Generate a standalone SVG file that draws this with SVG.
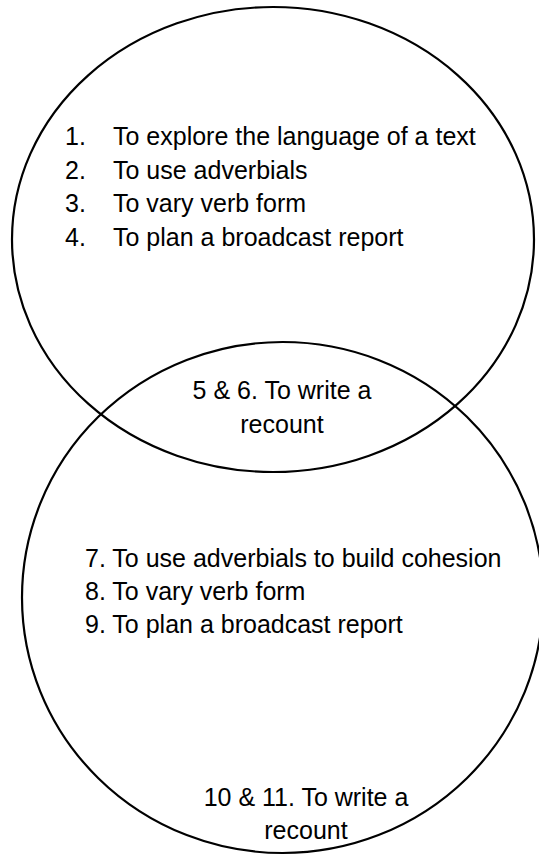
<svg xmlns="http://www.w3.org/2000/svg" width="539" height="857" viewBox="0 0 539 857">
  <style>
    .circle { fill: none; stroke: #000; stroke-width: 2.2; }
    .t { font-family: "Liberation Sans", Arial, sans-serif; font-size: 25px; fill: #000; }
    .c { text-anchor: middle; }
  </style>
  <rect x="0" y="0" width="539" height="857" fill="#fff"/>
  <g id="set-top">
    <ellipse class="circle" cx="273" cy="239.5" rx="261" ry="232.5"/>
    <text class="t" x="65" y="145">1.</text>
    <text class="t" x="113" y="145">To explore the language of a text</text>
    <text class="t" x="65" y="179">2.</text>
    <text class="t" x="113" y="179">To use adverbials</text>
    <text class="t" x="65" y="212">3.</text>
    <text class="t" x="113" y="212">To vary verb form</text>
    <text class="t" x="65" y="246">4.</text>
    <text class="t" x="113" y="246">To plan a broadcast report</text>
  </g>
  <g id="set-bottom">
    <ellipse class="circle" cx="282.6" cy="597.5" rx="260.6" ry="255.5"/>
    <text class="t" x="85" y="567">7. To use adverbials to build cohesion</text>
    <text class="t" x="85" y="600">8. To vary verb form</text>
    <text class="t" x="85" y="633">9. To plan a broadcast report</text>
    <text class="t c" x="306" y="806">10 &amp; 11. To write a</text>
    <text class="t c" x="306" y="839">recount</text>
  </g>
  <g id="overlap">
    <text class="t c" x="282" y="399">5 &amp; 6. To write a</text>
    <text class="t c" x="282" y="433">recount</text>
  </g>
</svg>
